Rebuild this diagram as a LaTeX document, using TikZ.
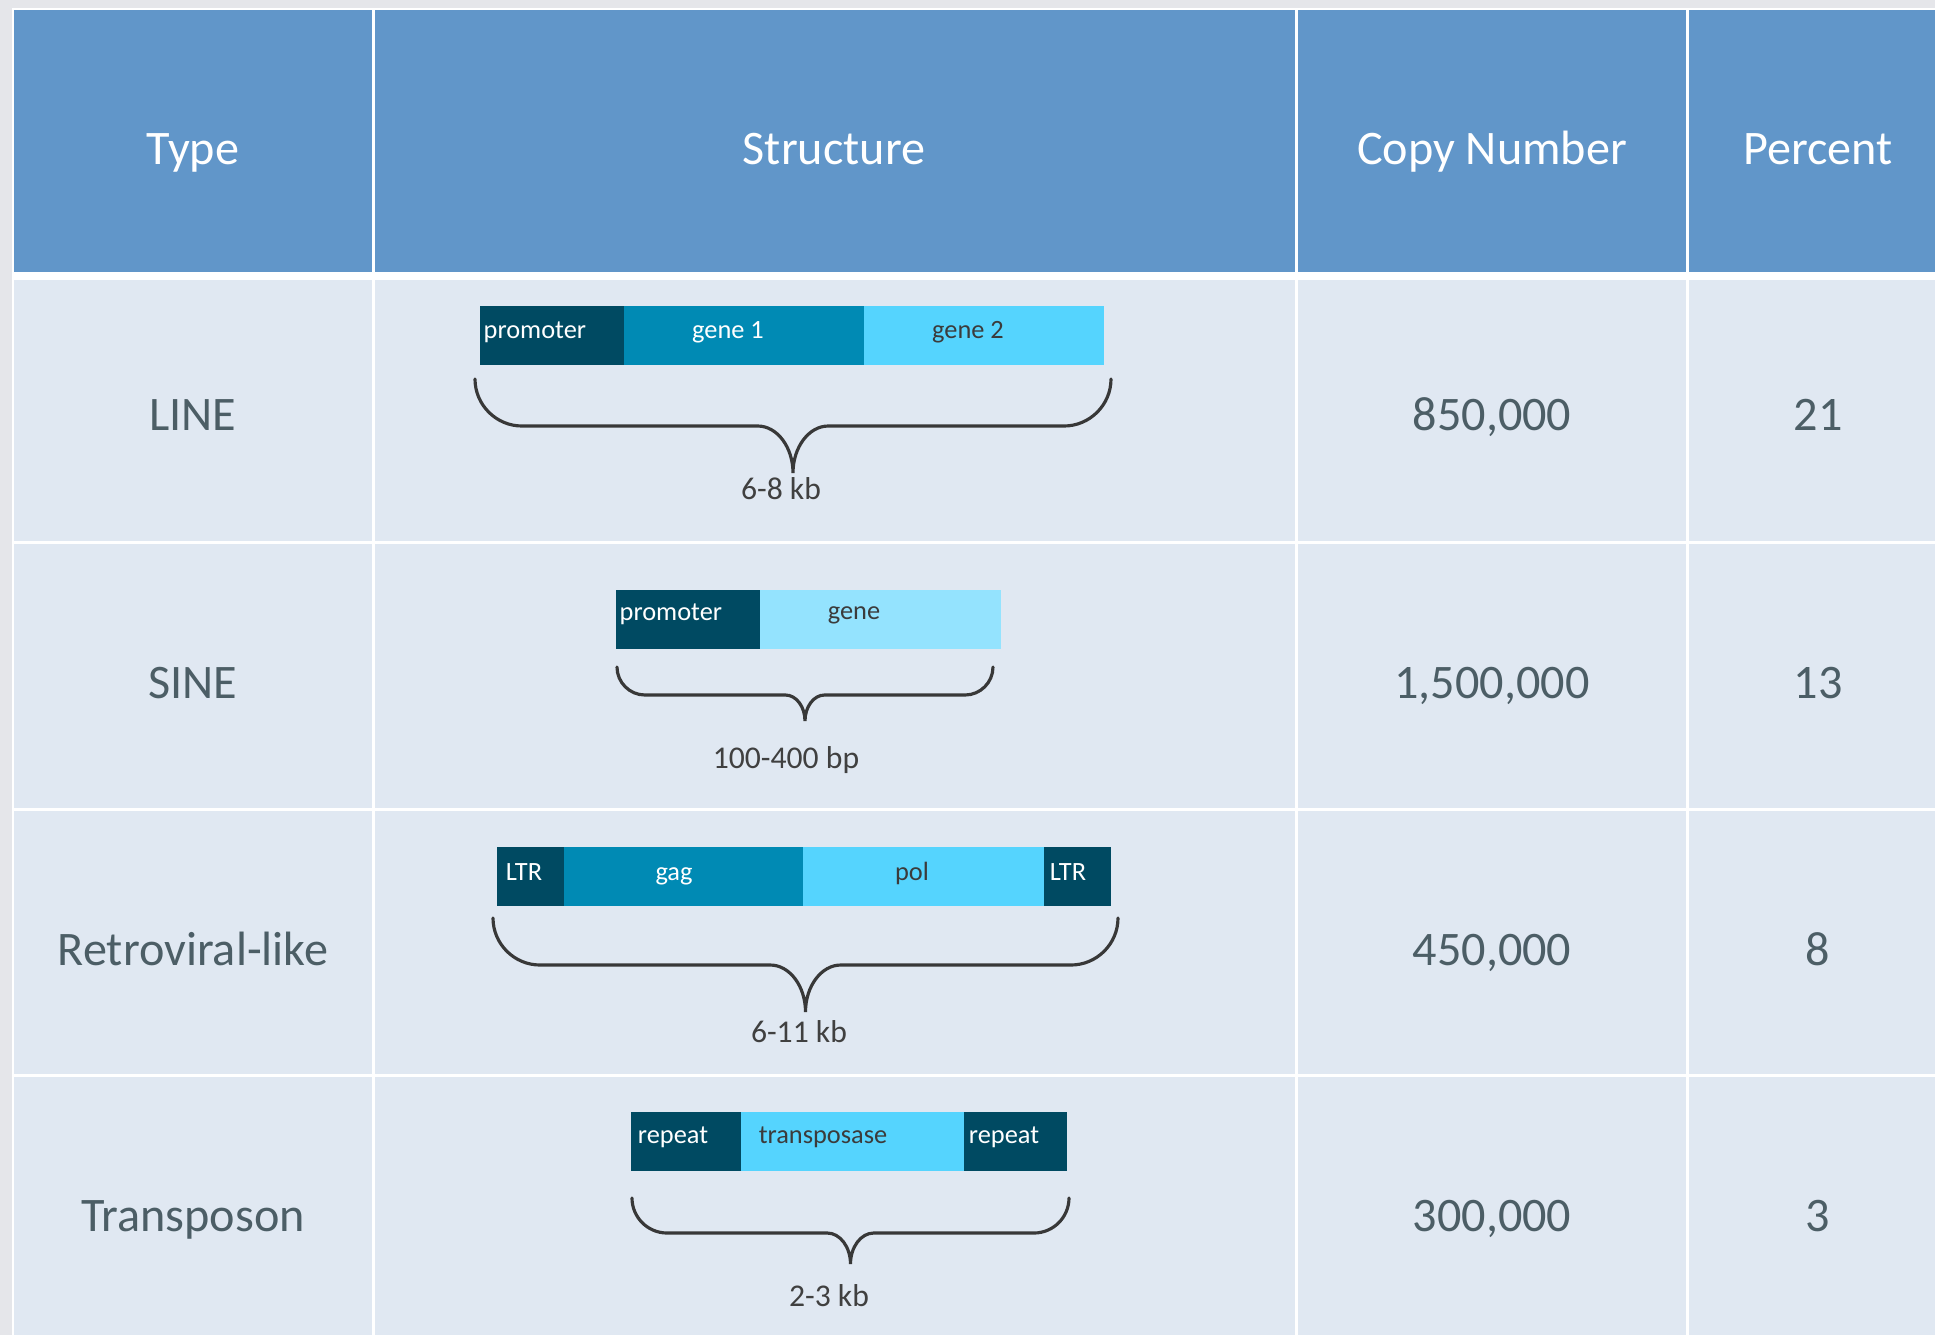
\documentclass[tikz,border=0pt]{standalone}
\usepackage{fontspec}
\setmainfont{Carlito}
\usetikzlibrary{positioning, calc}

\definecolor{outergray}{HTML}{E5E6EA}
\definecolor{hdrblue}{HTML}{6196C9}
\definecolor{cellblue}{HTML}{E0E8F2}
\definecolor{celltxt}{HTML}{4C5E66}
\definecolor{cdark}{HTML}{004A62}
\definecolor{cmid}{HTML}{008AB4}
\definecolor{clight}{HTML}{55D4FE}
\definecolor{cpale}{HTML}{94E3FE}
\definecolor{segtxt}{HTML}{3B3B3B}
\definecolor{lbltxt}{HTML}{404040}
\definecolor{bracegray}{HTML}{383838}

% brace under a structure: left, right, top, flat, tip
\newcommand{\genebrace}[5]{%
  \pgfmathsetmacro{\bmid}{(#1+#2)/2}
  \pgfmathsetmacro{\bcw}{#4-#3}
  \pgfmathsetmacro{\bmw}{0.75*(#5-#4)}
  \draw[bracestyle]
    (#1,#3) .. controls (#1,{#3+0.55*\bcw}) and ({#1+0.45*\bcw},#4) .. ({#1+\bcw},#4)
    -- ({\bmid-\bmw},#4) .. controls ({\bmid-0.45*\bmw},#4) and (\bmid,{#5-0.55*(#5-#4)}) .. (\bmid,#5)
    .. controls (\bmid,{#5-0.55*(#5-#4)}) and ({\bmid+0.45*\bmw},#4) .. ({\bmid+\bmw},#4)
    -- ({#2-\bcw},#4) .. controls ({#2-0.45*\bcw},#4) and (#2,{#3+0.55*\bcw}) .. (#2,#3);
}

\tikzset{
  gridline/.style={draw=white, line width=0.03cm},
  hdrtext/.style={text=white, font=\fontsize{13.7}{16}\selectfont, anchor=base, inner sep=0pt},
  celltext/.style={text=celltxt, font=\fontsize{13.7}{16}\selectfont, anchor=base, inner sep=0pt},
  seg/.style={minimum height=0.59cm, inner sep=0pt, outer sep=0pt},
  segdark/.style={seg, fill=cdark},
  segmid/.style={seg, fill=cmid},
  seglight/.style={seg, fill=clight},
  segpale/.style={seg, fill=cpale},
  segtext/.style={font=\fontsize{7.5}{9}\selectfont, anchor=base, inner sep=0pt},
  sizelabel/.style={text=lbltxt, font=\fontsize{9}{11}\selectfont, anchor=base, inner sep=0pt},
  bracestyle/.style={draw=bracegray, line width=0.9pt, line cap=round},
}

\begin{document}
\begin{tikzpicture}[x=0.01cm, y=-0.01cm]
    \useasboundingbox (0,0) rectangle (1935,1335);
    \clip (0,0) rectangle (1935,1335);
    \fill[outergray] (0,0) rectangle (1935,1335);
    \fill[white] (12,8) rectangle (1935,1335);
    \fill[hdrblue] (14,10) rectangle (1935,272);
    \fill[cellblue] (14,280) rectangle (1935,1335);

    % table rules
    \draw[gridline] (373.5,10) -- (373.5,1335);
    \draw[gridline] (1296.5,10) -- (1296.5,1335);
    \draw[gridline] (1687.5,10) -- (1687.5,1335);
    \draw[gridline] (14,542.5) -- (1935,542.5);
    \draw[gridline] (14,809) -- (1935,809);
    \draw[gridline] (14,1075.5) -- (1935,1075.5);

    \node[hdrtext] (htype) at (193,164) {Type};
    \node[hdrtext] (hstruct) at (834,164) {Structure};
    \node[hdrtext] (hcopy) at (1492,164) {Copy Number};
    \node[hdrtext] (hpct) at (1818,164) {Percent};

    \node[celltext] (tline) at (193,430) {LINE};
    \node[celltext] (cline) at (1492,430) {850,000};
    \node[celltext] (pline) at (1818,430) {21};
    \node[celltext] (tsine) at (193,698) {SINE};
    \node[celltext] (csine) at (1492,698) {1,500,000};
    \node[celltext] (psine) at (1818,698) {13};
    \node[celltext] (tretro) at (193,965) {Retroviral-like};
    \node[celltext] (cretro) at (1492,965) {450,000};
    \node[celltext] (pretro) at (1818,965) {8};
    \node[celltext] (ttrans) at (193,1231) {Transposon};
    \node[celltext] (ctrans) at (1492,1231) {300,000};
    \node[celltext] (ptrans) at (1818,1231) {3};

    \coordinate (lineorg) at (480,306);
    \coordinate (sineorg) at (616,590);
    \coordinate (retroorg) at (497,847);
    \coordinate (transorg) at (631,1112);

\begin{scope}[shift=(lineorg)]
    \node[segdark, minimum width=1.44cm, anchor=north west] (prom1) at (0,0) {};
    \node[segmid, minimum width=2.40cm, right=0pt of prom1] (gene1) {};
    \node[seglight, minimum width=2.40cm, right=0pt of gene1] (gene2) {};
    \node[segtext, text=white, anchor=base west] (prom1txt) at (3,32) {promoter};
    \node[segtext, text=white] (gene1txt) at (248,32) {gene 1};
    \node[segtext, text=segtxt] (gene2txt) at (488,32) {gene 2};
\end{scope}
    \genebrace{475}{1111}{379}{426}{473}
    \node[sizelabel] (len1) at (781,499) {6-8 kb};

\begin{scope}[shift=(sineorg)]
    \node[segdark, minimum width=1.44cm, anchor=north west] (prom2) at (0,0) {};
    \node[segpale, minimum width=2.41cm, right=0pt of prom2] (gene3) {};
    \node[segtext, text=white, anchor=base west] (prom2txt) at (3,30) {promoter};
    \node[segtext, text=segtxt] (gene3txt) at (238,29) {gene};
\end{scope}
    \genebrace{617}{993}{667}{695}{721}
    \node[sizelabel] (len2) at (786,768) {100-400 bp};

\begin{scope}[shift=(retroorg)]
    \node[segdark, minimum width=0.67cm, anchor=north west] (ltr1) at (0,0) {};
    \node[segmid, minimum width=2.39cm, right=0pt of ltr1] (gag) {};
    \node[seglight, minimum width=2.41cm, right=0pt of gag] (pol) {};
    \node[segdark, minimum width=0.67cm, right=0pt of pol] (ltr2) {};
    \node[segtext, text=white] (ltr1txt) at (27,33) {LTR};
    \node[segtext, text=white] (gagtxt) at (177,33) {gag};
    \node[segtext, text=segtxt] (poltxt) at (415,33) {pol};
    \node[segtext, text=white] (ltr2txt) at (571,33) {LTR};
\end{scope}
    \genebrace{493}{1118}{918}{965}{1012}
    \node[sizelabel] (len3) at (799,1042) {6-11 kb};

\begin{scope}[shift=(transorg)]
    \node[segdark, minimum width=1.10cm, anchor=north west] (rep1) at (0,0) {};
    \node[seglight, minimum width=2.23cm, right=0pt of rep1] (tpase) {};
    \node[segdark, minimum width=1.03cm, right=0pt of tpase] (rep2) {};
    \node[segtext, text=white] (rep1txt) at (42,31) {repeat};
    \node[segtext, text=segtxt] (tpasetxt) at (192,31) {transposase};
    \node[segtext, text=white] (rep2txt) at (373,31) {repeat};
\end{scope}
    \genebrace{632}{1069}{1198}{1233}{1264}
    \node[sizelabel] (len4) at (829,1306) {2-3 kb};

\end{tikzpicture}
\end{document}
